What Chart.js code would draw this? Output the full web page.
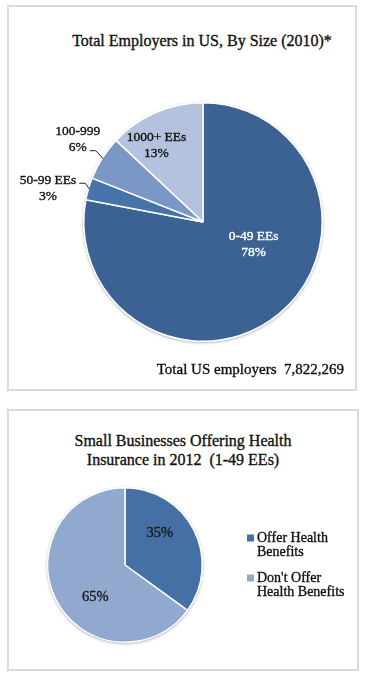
<!DOCTYPE html>
<html>
<head>
<meta charset="utf-8">
<title>Employers by size</title>
<script src="https://cdn.jsdelivr.net/npm/chart.js@4.4.1/dist/chart.umd.min.js"></script>
<style>
  body { margin: 0; background: #fff; font-family: 'Liberation Serif', 'Times New Roman', serif; color: #111; }
  .box { position: absolute; box-sizing: border-box; border: 2px solid #dcdcdc; }
  #box1 { left: 7px; top: 5px; width: 350px; height: 386px; }
  #box2 { left: 7px; top: 409px; width: 352px; height: 262px; }
  .title { position: absolute; text-align: center; font-size: 16px; line-height: 19px; white-space: nowrap; -webkit-text-stroke: 0.35px #111; }
  #title1 { left: 52px; width: 300px; top: 31px; }
  #title2 { left: 33px; width: 300px; top: 431px; }
  canvas { position: absolute; }
  #pie1 { left: 9px; top: 7px; }
  #pie2 { left: 9px; top: 411px; }
</style>
</head>
<body>
<div class="box" id="box1"></div>
<div class="box" id="box2"></div>
<div class="title" id="title1">Total Employers in US, By Size (2010)*</div>
<div class="title" id="title2">Small Businesses Offering Health<br>Insurance in 2012&nbsp; (1-49 EEs)</div>
<canvas id="pie1" width="345" height="382"></canvas>
<canvas id="pie2" width="347" height="258"></canvas>
<script>
// chart 1 - employers by size
const sizeLabels = ['0-49 EEs', '50-99 EEs', '100-999', '1000+ EEs']
const sizeShares = [78, 3, 6, 13]
const sizeColors = ['#3b6292', '#4673aa', '#7a97c6', '#b4c2de']
const totalNote = 'Total US employers  7,822,269'

// chart 2 - small businesses offering health insurance
const benefitLabels = ['Offer Health Benefits', "Don't Offer Health Benefits"]
const benefitShares = [35, 65]
const benefitColors = ['#4570a5', '#92a9cf']

const serif = "'Liberation Serif', 'Times New Roman', serif"

function wrapText (ctx, text, maxWidth) {
  const words = text.split(' ')
  const lines = []
  let line = ''
  for (const w of words) {
    const test = line ? line + ' ' + w : w
    if (line && ctx.measureText(test).width > maxWidth) {
      lines.push(line)
      line = w
    } else {
      line = test
    }
  }
  if (line) lines.push(line)
  return lines
}

// filled text with a hairline stroke so it reads a bit heavier
function heavyText (ctx, text, x, y, color) {
  ctx.fillStyle = color
  ctx.strokeStyle = color
  ctx.lineWidth = 0.35
  ctx.fillText(text, x, y)
  ctx.strokeText(text, x, y)
}

// soft shadow under the pie, then slice labels, leader lines, legend, note
const pieExtras = {
  id: 'pieExtras',
  beforeDatasetsDraw (chart) {
    const arc = chart.getDatasetMeta(0).data[0]
    if (!arc) return
    const { x, y, outerRadius } = arc.getProps(['x', 'y', 'outerRadius'], true)
    const ctx = chart.ctx
    ctx.save()
    ctx.shadowColor = 'rgba(0,0,0,0.35)'
    ctx.shadowBlur = 3
    ctx.shadowOffsetY = 1
    ctx.fillStyle = '#ffffff'
    ctx.beginPath()
    ctx.arc(x, y, outerRadius + 0.5, 0, Math.PI * 2)
    ctx.fill()
    ctx.restore()
  },
  afterDatasetsDraw (chart, args, opts) {
    const ctx = chart.ctx
    const meta = chart.getDatasetMeta(0)
    const values = chart.data.datasets[0].data
    ctx.save()
    ctx.textAlign = 'center'
    ctx.textBaseline = 'middle'
    meta.data.forEach((arc, i) => {
      const p = opts.items[i]
      const { x, y, outerRadius, startAngle, endAngle } =
        arc.getProps(['x', 'y', 'outerRadius', 'startAngle', 'endAngle'], true)
      const lines = opts.showName
        ? [chart.data.labels[i], values[i] + '%']
        : [values[i] + '%']
      const cx = x + p.dx * outerRadius
      const cy = y + p.dy * outerRadius
      ctx.font = opts.font
      const top = cy - (lines.length - 1) * opts.lineHeight / 2
      lines.forEach((t, k) => heavyText(ctx, t, cx, top + k * opts.lineHeight, p.color))

      if (p.leader != null) {
        const row = p.leader
        const w = ctx.measureText(lines[row]).width
        const sx = cx + w / 2 + 3
        const sy = top + row * opts.lineHeight + 3
        const mid = (startAngle + endAngle) / 2
        ctx.strokeStyle = '#222'
        ctx.lineWidth = 1
        ctx.beginPath()
        ctx.moveTo(sx, sy)
        ctx.lineTo(sx + 6, sy)
        ctx.lineTo(x + Math.cos(mid) * (outerRadius - 1), y + Math.sin(mid) * (outerRadius - 1))
        ctx.stroke()
      }
    })

    if (opts.legend) {
      const lg = opts.legend
      ctx.textAlign = 'left'
      ctx.font = lg.font
      let yy = lg.y
      chart.data.labels.forEach((label, i) => {
        const lines = wrapText(ctx, label, lg.maxWidth)
        ctx.fillStyle = chart.data.datasets[0].backgroundColor[i]
        ctx.fillRect(lg.x, yy - 3.5, 7, 7)
        lines.forEach((t, k) => heavyText(ctx, t, lg.x + 10, yy + k * lg.lineHeight, '#111'))
        yy += lg.itemGap
      })
    }

    if (opts.note) {
      ctx.textAlign = 'right'
      ctx.font = opts.note.font
      heavyText(ctx, opts.note.text, opts.note.x, opts.note.y, '#111')
    }
    ctx.restore()
  }
}

const baseOptions = {
  responsive: false,
  animation: false,
  events: [],
  plugins: {
    legend: { display: false },
    tooltip: { enabled: false },
    title: { display: false }
  }
}

new Chart(document.getElementById('pie1'), {
  type: 'pie',
  data: {
    labels: sizeLabels,
    datasets: [{
      data: sizeShares,
      backgroundColor: sizeColors,
      borderColor: '#ffffff',
      borderWidth: 1.5
    }]
  },
  options: {
    ...baseOptions,
    layout: { padding: { left: 74, right: 31, top: 95, bottom: 47 } },
    plugins: {
      ...baseOptions.plugins,
      pieExtras: {
        showName: true,
        font: '13.5px ' + serif,
        lineHeight: 16,
        items: [
          { dx: 0.425, dy: 0.19, color: '#ffffff' },
          { dx: -1.30, dy: -0.283, color: '#111', leader: 0 },
          { dx: -1.05, dy: -0.69, color: '#111', leader: 1 },
          { dx: -0.39, dy: -0.64, color: '#111' }
        ],
        note: { text: totalNote, font: '15px ' + serif, x: 335, y: 363 }
      }
    }
  },
  plugins: [pieExtras]
})

new Chart(document.getElementById('pie2'), {
  type: 'pie',
  data: {
    labels: benefitLabels,
    datasets: [{
      data: benefitShares,
      backgroundColor: benefitColors,
      borderColor: '#ffffff',
      borderWidth: 1.5
    }]
  },
  options: {
    ...baseOptions,
    layout: { padding: { left: 38, right: 153, top: 76, bottom: 26 } },
    plugins: {
      ...baseOptions.plugins,
      pieExtras: {
        showName: false,
        font: '14.5px ' + serif,
        lineHeight: 16,
        items: [
          { dx: 0.45, dy: -0.41, color: '#1a1a1a' },
          { dx: -0.385, dy: 0.42, color: '#1a1a1a' }
        ],
        legend: { x: 238, y: 127, font: '14px ' + serif, lineHeight: 14.5, itemGap: 40, maxWidth: 92 }
      }
    }
  },
  plugins: [pieExtras]
})
</script>
</body>
</html>
